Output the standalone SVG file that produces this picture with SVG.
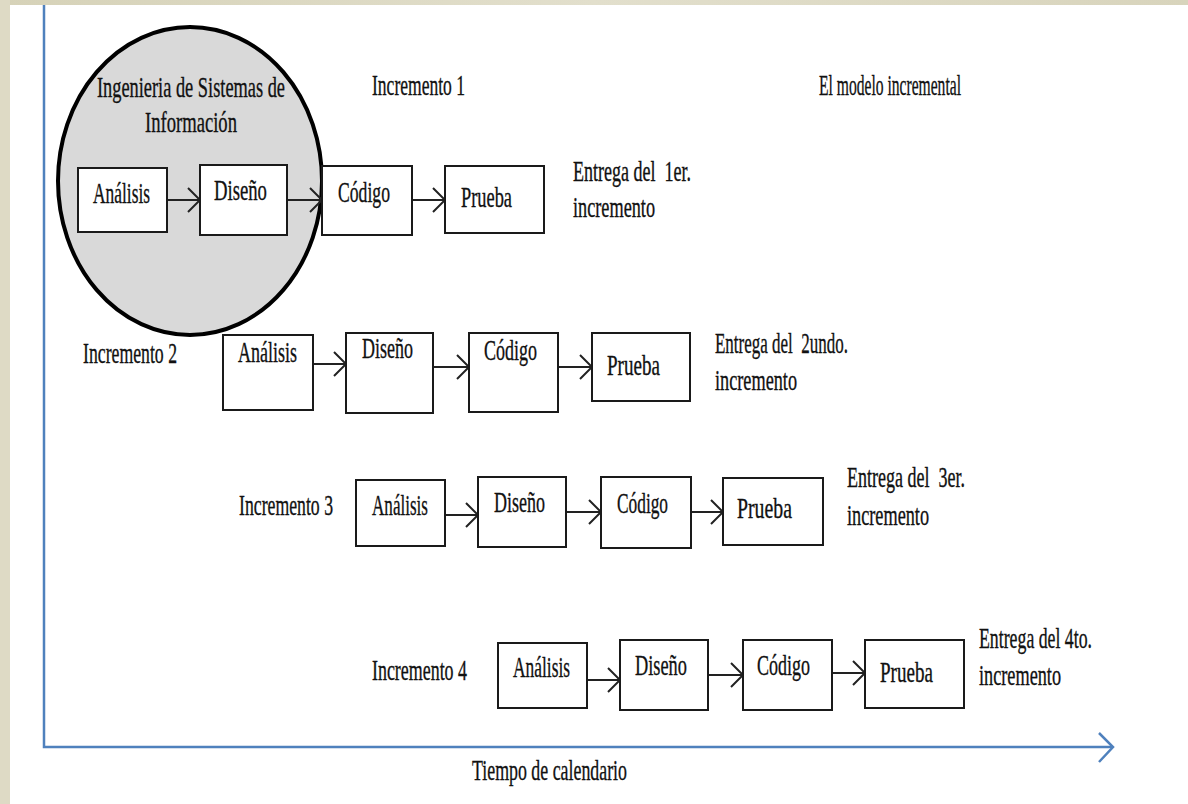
<svg xmlns="http://www.w3.org/2000/svg" width="1188" height="804" viewBox="0 0 1188 804">
<style>
.t{font-family:"Liberation Serif","DejaVu Serif",serif;font-size:30px;fill:#111;stroke:#111;stroke-width:0.35;white-space:pre}
.box{fill:#fff;stroke:#1a1a1a;stroke-width:2}
.arr{stroke:#222;stroke-width:2;fill:none}
.axis{stroke:#4f81bd;stroke-width:2.5;fill:none}
</style>
<defs>
<marker id="head" markerUnits="userSpaceOnUse" markerWidth="20" markerHeight="30" viewBox="-16 -15 18 30" refX="0" refY="0" orient="auto">
<path d="M-12,-12 L0,0 L-12,12" fill="none" stroke="#222" stroke-width="2"/>
</marker>
<linearGradient id="bg" x1="0" y1="0" x2="1" y2="0">
<stop offset="0" stop-color="#d6d2b8"/><stop offset="0.5" stop-color="#e2dfcc"/><stop offset="1" stop-color="#d8d4bc"/>
</linearGradient>
</defs>
<rect x="0" y="0" width="1188" height="804" fill="#fff"/>
<rect x="0" y="0" width="1188" height="5" fill="url(#bg)"/>
<rect x="0" y="0" width="10" height="804" fill="#dedac5"/>

<g id="axes">
<path class="axis" d="M44,5 V747 H1113"/>
<path class="axis" d="M1099,733 L1113,747 L1099,762"/>
<text class="t" transform="translate(472,780) scale(0.63,1)" textLength="246" lengthAdjust="spacingAndGlyphs">Tiempo de calendario</text>
</g>

<g id="circle-isi">
<ellipse cx="190" cy="181" rx="132" ry="154" fill="#d9d9d9" stroke="#000" stroke-width="4"/>
<text class="t" transform="translate(97,97) scale(0.63,1)" textLength="298.4" lengthAdjust="spacingAndGlyphs">Ingenieria de Sistemas de</text>
<text class="t" transform="translate(145,132) scale(0.63,1)" textLength="146" lengthAdjust="spacingAndGlyphs">Información</text>
</g>

<g id="titles">
<text class="t" transform="translate(372,95) scale(0.63,1)" textLength="147.6" lengthAdjust="spacingAndGlyphs">Incremento 1</text>
<text class="t" transform="translate(819,95) scale(0.63,1)" textLength="225.4" lengthAdjust="spacingAndGlyphs">El modelo incremental</text>
<text class="t" transform="translate(83,363) scale(0.63,1)" textLength="149.2" lengthAdjust="spacingAndGlyphs">Incremento 2</text>
<text class="t" transform="translate(239,515) scale(0.63,1)" textLength="149.2" lengthAdjust="spacingAndGlyphs">Incremento 3</text>
<text class="t" transform="translate(372,680) scale(0.63,1)" textLength="150.8" lengthAdjust="spacingAndGlyphs">Incremento 4</text>
</g>

<g id="connectors">
<line class="arr" x1="167" y1="200" x2="200" y2="200" marker-end="url(#head)"/>
<line class="arr" x1="287" y1="200" x2="322" y2="200" marker-end="url(#head)"/>
<line class="arr" x1="412" y1="200" x2="445" y2="200" marker-end="url(#head)"/>
<line class="arr" x1="313" y1="364" x2="346" y2="364" marker-end="url(#head)"/>
<line class="arr" x1="433" y1="367" x2="469" y2="367" marker-end="url(#head)"/>
<line class="arr" x1="558" y1="367" x2="592" y2="367" marker-end="url(#head)"/>
<line class="arr" x1="445" y1="515" x2="478" y2="515" marker-end="url(#head)"/>
<line class="arr" x1="566" y1="512" x2="601" y2="512" marker-end="url(#head)"/>
<line class="arr" x1="691" y1="512" x2="723" y2="512" marker-end="url(#head)"/>
<line class="arr" x1="587" y1="680" x2="620" y2="680" marker-end="url(#head)"/>
<line class="arr" x1="708" y1="675" x2="743" y2="675" marker-end="url(#head)"/>
<line class="arr" x1="832" y1="673" x2="865" y2="673" marker-end="url(#head)"/>
</g>

<g id="r1-analisis"><rect class="box" x="78" y="168" width="89" height="64"/><text class="t" transform="translate(93,203) scale(0.63,1)" textLength="90.5" lengthAdjust="spacingAndGlyphs">Análisis</text></g>
<g id="r1-diseno"><rect class="box" x="200" y="165" width="87" height="70"/><text class="t" transform="translate(214,200) scale(0.63,1)" textLength="84.1" lengthAdjust="spacingAndGlyphs">Diseño</text></g>
<g id="r1-codigo"><rect class="box" x="322" y="166" width="90" height="69"/><text class="t" transform="translate(338,202) scale(0.63,1)" textLength="82.5" lengthAdjust="spacingAndGlyphs">Código</text></g>
<g id="r1-prueba"><rect class="box" x="445" y="166" width="99" height="67"/><text class="t" transform="translate(461,207) scale(0.63,1)" textLength="81" lengthAdjust="spacingAndGlyphs">Prueba</text></g>
<g id="r1-entrega"><text class="t" transform="translate(573,181) scale(0.63,1)" textLength="187.3" lengthAdjust="spacingAndGlyphs">Entrega del  1er.</text><text class="t" transform="translate(573,217) scale(0.63,1)" textLength="130.2" lengthAdjust="spacingAndGlyphs">incremento</text></g>

<g id="r2-analisis"><rect class="box" x="223" y="335" width="90" height="75"/><text class="t" transform="translate(238,362) scale(0.63,1)" textLength="93.7" lengthAdjust="spacingAndGlyphs">Análisis</text></g>
<g id="r2-diseno"><rect class="box" x="346" y="333" width="87" height="80"/><text class="t" transform="translate(362,358) scale(0.63,1)" textLength="81" lengthAdjust="spacingAndGlyphs">Diseño</text></g>
<g id="r2-codigo"><rect class="box" x="469" y="333" width="89" height="79"/><text class="t" transform="translate(484,360) scale(0.63,1)" textLength="84.1" lengthAdjust="spacingAndGlyphs">Código</text></g>
<g id="r2-prueba"><rect class="box" x="592" y="333" width="98" height="68"/><text class="t" transform="translate(607,375) scale(0.63,1)" textLength="84.1" lengthAdjust="spacingAndGlyphs">Prueba</text></g>
<g id="r2-entrega"><text class="t" transform="translate(715,353) scale(0.63,1)" textLength="211.1" lengthAdjust="spacingAndGlyphs">Entrega del  2undo.</text><text class="t" transform="translate(715,390) scale(0.63,1)" textLength="130.2" lengthAdjust="spacingAndGlyphs">incremento</text></g>

<g id="r3-analisis"><rect class="box" x="356" y="480" width="89" height="66"/><text class="t" transform="translate(372,515) scale(0.63,1)" textLength="88.9" lengthAdjust="spacingAndGlyphs">Análisis</text></g>
<g id="r3-diseno"><rect class="box" x="478" y="477" width="88" height="70"/><text class="t" transform="translate(494,512) scale(0.63,1)" textLength="81" lengthAdjust="spacingAndGlyphs">Diseño</text></g>
<g id="r3-codigo"><rect class="box" x="601" y="477" width="90" height="71"/><text class="t" transform="translate(617,513) scale(0.63,1)" textLength="81" lengthAdjust="spacingAndGlyphs">Código</text></g>
<g id="r3-prueba"><rect class="box" x="723" y="478" width="100" height="67"/><text class="t" transform="translate(737,518) scale(0.63,1)" textLength="87.3" lengthAdjust="spacingAndGlyphs">Prueba</text></g>
<g id="r3-entrega"><text class="t" transform="translate(847,487) scale(0.63,1)" textLength="187.3" lengthAdjust="spacingAndGlyphs">Entrega del  3er.</text><text class="t" transform="translate(847,525) scale(0.63,1)" textLength="130.2" lengthAdjust="spacingAndGlyphs">incremento</text></g>

<g id="r4-analisis"><rect class="box" x="498" y="643" width="89" height="65"/><text class="t" transform="translate(513,677) scale(0.63,1)" textLength="90.5" lengthAdjust="spacingAndGlyphs">Análisis</text></g>
<g id="r4-diseno"><rect class="box" x="620" y="640" width="88" height="70"/><text class="t" transform="translate(635,675) scale(0.63,1)" textLength="82.5" lengthAdjust="spacingAndGlyphs">Diseño</text></g>
<g id="r4-codigo"><rect class="box" x="743" y="640" width="89" height="70"/><text class="t" transform="translate(757,675) scale(0.63,1)" textLength="84.1" lengthAdjust="spacingAndGlyphs">Código</text></g>
<g id="r4-prueba"><rect class="box" x="865" y="640" width="99" height="68"/><text class="t" transform="translate(880,682) scale(0.63,1)" textLength="84.1" lengthAdjust="spacingAndGlyphs">Prueba</text></g>
<g id="r4-entrega"><text class="t" transform="translate(979,648) scale(0.63,1)" textLength="179.4" lengthAdjust="spacingAndGlyphs">Entrega del 4to.</text><text class="t" transform="translate(979,685) scale(0.63,1)" textLength="130.2" lengthAdjust="spacingAndGlyphs">incremento</text></g>
</svg>
